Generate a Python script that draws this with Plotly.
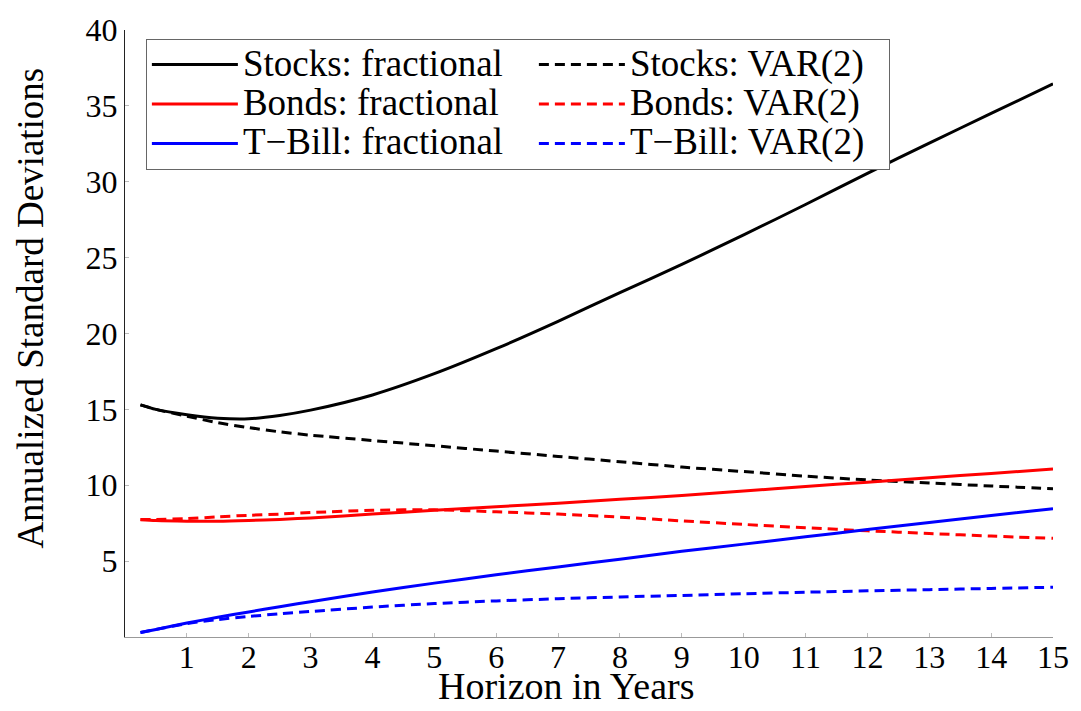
import plotly.graph_objects as go

horizon = [0.25, 0.5, 1, 1.5, 2, 2.5, 3, 4, 5, 6, 7, 8, 9, 10, 11, 12, 13, 14, 15]

stocks_frac = [15.3, 15.0, 14.65, 14.42, 14.38, 14.6, 14.95, 15.95, 17.35, 19.0, 20.8, 22.7, 24.55, 26.5, 28.5, 30.55, 32.55, 34.5, 36.45]
stocks_var = [15.3, 15.0, 14.55, 14.12, 13.8, 13.52, 13.3, 12.95, 12.6, 12.25, 11.9, 11.55, 11.2, 10.9, 10.6, 10.35, 10.15, 9.95, 9.77]
bonds_frac = [7.73, 7.67, 7.63, 7.63, 7.68, 7.75, 7.85, 8.1, 8.35, 8.58, 8.82, 9.07, 9.33, 9.62, 9.92, 10.2, 10.5, 10.78, 11.07]
bonds_var = [7.74, 7.75, 7.8, 7.92, 8.02, 8.1, 8.2, 8.35, 8.38, 8.25, 8.1, 7.9, 7.65, 7.42, 7.2, 7.0, 6.82, 6.65, 6.5]
tbill_frac = [0.3, 0.5, 0.92, 1.3, 1.65, 2.0, 2.32, 2.97, 3.55, 4.1, 4.62, 5.12, 5.65, 6.12, 6.6, 7.08, 7.55, 8.0, 8.46]
tbill_var = [0.3, 0.5, 0.88, 1.15, 1.35, 1.53, 1.68, 1.97, 2.2, 2.38, 2.52, 2.64, 2.74, 2.85, 2.95, 3.04, 3.12, 3.2, 3.28]

x_ticks = list(range(1, 16))
y_ticks = [5, 10, 15, 20, 25, 30, 35, 40]

# (name, values, colour, dash, legend column width)
series = [
    ("Stocks: fractional", stocks_frac, "black", "solid", 286),
    ("Stocks: VAR(2)", stocks_var, "black", "10px,6px", 254),
    ("Bonds: fractional", bonds_frac, "red", "solid", 286),
    ("Bonds: VAR(2)", bonds_var, "red", "10px,6px", 254),
    ("T\u2212Bill: fractional", tbill_frac, "blue", "solid", 286),
    ("T\u2212Bill: VAR(2)", tbill_var, "blue", "10px,6px", 254),
]

FONT = "Liberation Serif"

fig = go.Figure()
for name, vals, color, dash, lw in series:
    fig.add_trace(go.Scatter(
        x=horizon, y=vals, mode="lines",
        name='<span style="font-size:37px">' + name + '</span>',
        legendwidth=lw,
        line=dict(color=color, width=3, dash=dash, shape="spline", smoothing=0.8),
    ))

fig.update_layout(
    width=1081, height=711,
    margin=dict(l=125, r=22, t=28, b=74),
    paper_bgcolor="white", plot_bgcolor="white",
    font=dict(family=FONT, size=32, color="black"),
    showlegend=True,
    legend=dict(
        orientation="h",
        x=0.0225, y=0.9853, xanchor="left", yanchor="top",
        bgcolor="white", bordercolor="#666", borderwidth=1,
        font=dict(family=FONT, size=28, color="black"),
        entrywidthmode="pixels",
        itemwidth=86,
        traceorder="normal",
    ),
    xaxis=dict(
        range=[0, 15], tickvals=x_ticks, ticktext=[str(v) for v in x_ticks],
        showgrid=False, zeroline=False,
        showline=True, linecolor="#999", linewidth=1,
        ticks="inside", ticklen=4, tickcolor="#bbb", tickwidth=1,
        ticklabelstandoff=-8,
        tickfont=dict(family=FONT, size=32, color="black"), mirror=False,
    ),
    yaxis=dict(
        range=[0, 40], tickvals=y_ticks, ticktext=[str(v) for v in y_ticks],
        showgrid=False, zeroline=False,
        showline=True, linecolor="#222", linewidth=1,
        ticks="inside", ticklen=4, tickcolor="#bbb", tickwidth=1,
        tickfont=dict(family=FONT, size=32, color="black"), mirror=False,
    ),
    annotations=[
        dict(text="Horizon in Years", xref="paper", yref="paper",
             x=0.4748, y=-0.0805, xanchor="center", yanchor="middle",
             showarrow=False, font=dict(family=FONT, size=38, color="black")),
        dict(text="Annualized Standard Deviations", xref="paper", yref="paper",
             x=-0.1028, y=0.542, xanchor="center", yanchor="middle", textangle=-90,
             showarrow=False, font=dict(family=FONT, size=37, color="black")),
    ],
)

fig.write_html("out.html")
